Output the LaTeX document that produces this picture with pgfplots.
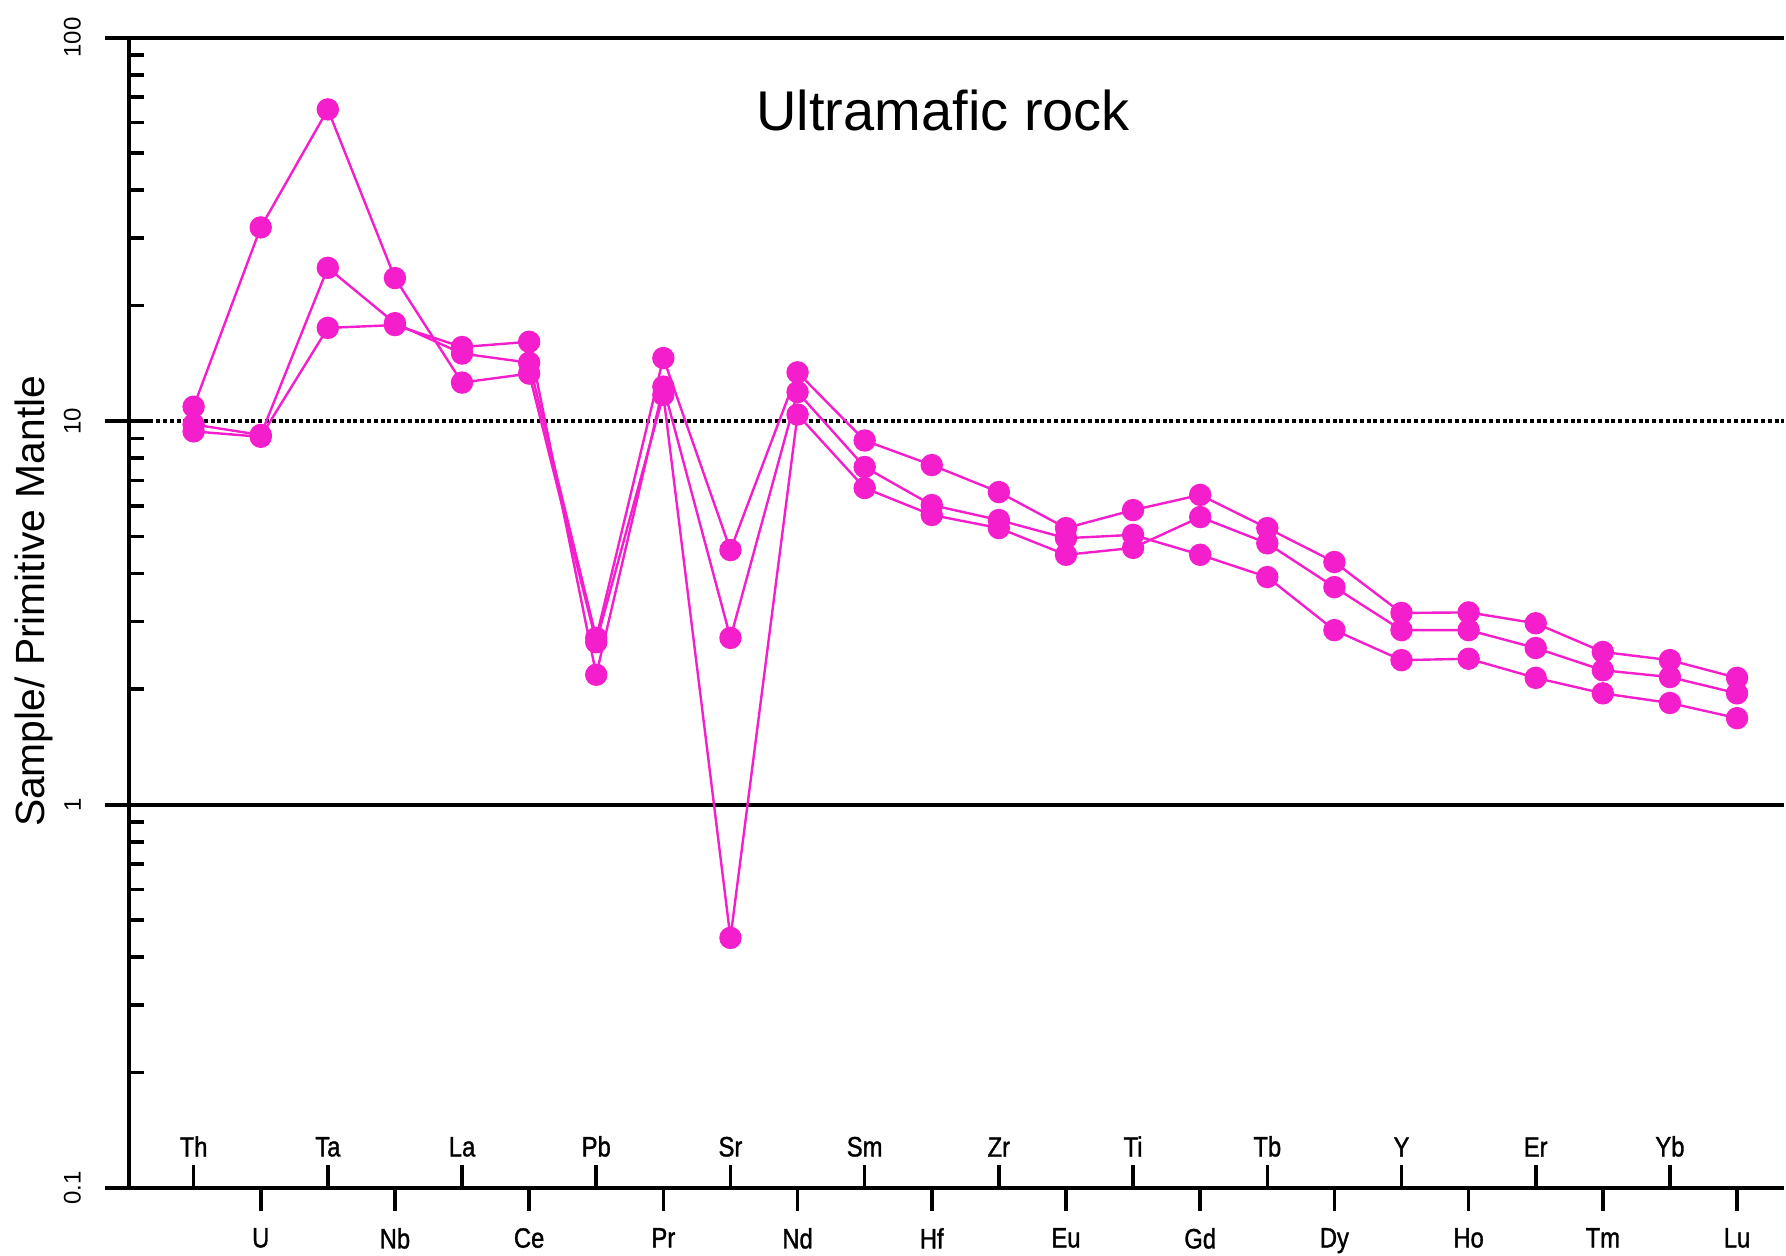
\documentclass[border=0pt]{standalone}
\usepackage{pgfplots}
\pgfplotsset{compat=1.18}
\usepackage{fontspec}
\setmainfont{Liberation Sans}
\newfontfamily\narrowfont[FakeStretch=0.85, FakeBold=1.2]{Liberation Sans}
\definecolor{mag}{RGB}{245,30,205}
\begin{document}
\begin{tikzpicture}
\useasboundingbox (-32.25pt,-16.75pt) rectangle (414.25pt,297pt);
\begin{axis}[
  at={(0,0)}, anchor=south west,
  scale only axis, width=413.75pt, height=287.6pt,
  ymode=log, ymin=0.1, ymax=100,
  xmin=-0.963, xmax=23.70,
  clip=false,
  axis x line*=bottom, axis y line*=left,
  axis line style={line width=1pt},
  tick style={line width=0.9pt, black},
  major tick length=5.7pt, minor tick length=3.8pt,
  tick align=inside,
  ytick={0.1,1,10,100}, yticklabels={0.1,1,10,100},
  yticklabel style={xshift=-8.5pt, rotate=90, anchor=south, font=\fontsize{6}{7}\selectfont},
  xtick={0,2,...,22},
  xticklabels={Th,Ta,La,Pb,Sr,Sm,Zr,Ti,Tb,Y,Er,Yb},
  xticklabel style={anchor=south, yshift=4.3pt, font=\narrowfont\fontsize{7}{8}\selectfont},
  extra x ticks={1,3,...,23},
  extra x tick labels={U,Nb,Ce,Pr,Nd,Hf,Eu,Gd,Dy,Ho,Tm,Lu},
  extra x tick style={tick align=outside, xticklabel style={anchor=north, yshift=-5.1pt}},
  every axis y label/.style={at={(axis description cs:-0.0574,0.51)}, rotate=90, anchor=center, font=\fontsize{10.2}{12}\selectfont},
  ylabel={Sample/ Primitive Mantle},
]
\draw[line width=1pt] ([xshift=-6pt]axis cs:-0.963,0.1) -- (axis cs:-0.963,0.1);
\draw[line width=1pt] ([xshift=-6pt]axis cs:-0.963,1) -- (axis cs:23.7,1);
\draw[line width=1pt] ([xshift=-6pt]axis cs:-0.963,10) -- (axis cs:-0.963,10);
\draw[line width=1.2pt, dash pattern=on 1pt off 0.7pt] (axis cs:-0.963,10) -- (axis cs:23.7,10);
\draw[line width=1pt] ([xshift=-6pt]axis cs:-0.963,100) -- (axis cs:23.7,100);
\node[font=\fontsize{14}{16}\selectfont] at (axis cs:11.17,64.7) {Ultramafic rock};

% Series M (peak at Ta)
\addplot[mag, line width=0.6pt, mark=*, mark size=2.5pt, mark options={fill=mag, draw=mag, solid}] coordinates {
(0,10.9) (1,32) (2,65) (3,23.6) (4,12.6) (5,13.3) (6,2.65) (7,11.7) (8,0.449) (9,10.4)
(10,6.69) (11,5.69) (12,5.26) (13,4.48) (14,4.67) (15,5.62) (16,4.80) (17,3.69) (18,2.85)
(19,2.85) (20,2.56) (21,2.24) (22,2.15) (23,1.95)};
% Series T
\addplot[mag, line width=0.6pt, mark=*, mark size=2.5pt, mark options={fill=mag, draw=mag, solid}] coordinates {
(0,9.8) (1,9.2) (2,25.1) (3,18.0) (4,15.0) (5,14.2) (6,2.72) (7,14.6) (8,4.61) (9,13.4)
(10,8.90) (11,7.68) (12,6.53) (13,5.26) (14,5.86) (15,6.42) (16,5.26) (17,4.29) (18,3.16)
(19,3.17) (20,2.97) (21,2.50) (22,2.38) (23,2.14)};
% Series L
\addplot[mag, line width=0.6pt, mark=*, mark size=2.5pt, mark options={fill=mag, draw=mag, solid}] coordinates {
(0,9.4) (1,9.1) (2,17.5) (3,17.8) (4,15.6) (5,16.1) (6,2.18) (7,12.3) (8,2.72) (9,11.9)
(10,7.59) (11,6.04) (12,5.52) (13,4.95) (14,5.05) (15,4.48) (16,3.92) (17,2.85) (18,2.38)
(19,2.40) (20,2.14) (21,1.95) (22,1.84) (23,1.68)};
\end{axis}
\end{tikzpicture}
\end{document}
